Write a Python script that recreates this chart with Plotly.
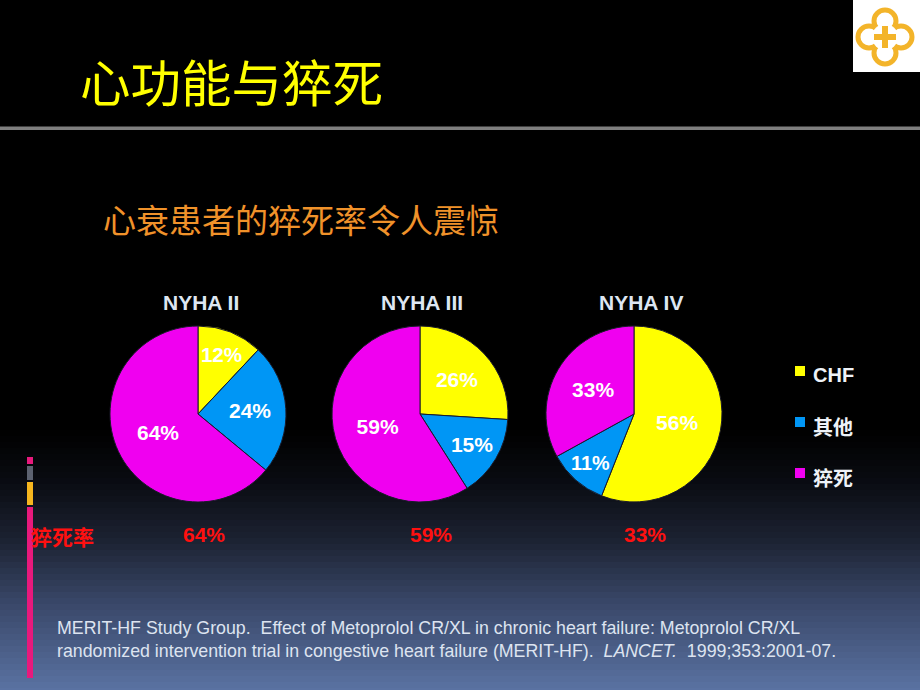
import plotly.graph_objects as go

# ---------------- data ----------------
groups = ["NYHA II", "NYHA III", "NYHA IV"]
categories = ["CHF", "其他", "猝死"]
chf = [12, 26, 56]
other = [24, 15, 11]
sudden = [64, 59, 33]
rate_label = "猝死率"
title_text = "心功能与猝死"
subtitle_text = "心衰患者的猝死率令人震惊"
citation_1 = "MERIT-HF Study Group.\u00a0 Effect of Metoprolol CR/XL in chronic heart failure: Metoprolol CR/XL"
citation_2 = ("randomized intervention trial in congestive heart failure (MERIT-HF).\u00a0 "
              "<i>LANCET.</i>\u00a0 1999;353:2001-07.")

# ---------------- style ----------------
W, H = 920, 690
colors = ["#ffff00", "#0096f5", "#f000f0"]
LAT = "Liberation Sans, Arial, Noto Sans CJK SC"
CJK = "Noto Sans CJK SC, Liberation Sans"


def px(x):
    return x / W


def py(y):
    return 1 - y / H


centers = [198, 420, 634]
cy = 414
R = 88

fig = go.Figure()
for i, g in enumerate(groups):
    cx = centers[i]
    fig.add_trace(go.Pie(
        labels=categories,
        values=[chf[i], other[i], sudden[i]],
        sort=False,
        direction="clockwise",
        rotation=0,
        marker=dict(colors=colors, line=dict(color="#1a1a2a", width=1)),
        textinfo="percent",
        textposition="inside",
        insidetextorientation="horizontal",
        textfont=dict(family=LAT, size=21, color="white", weight="bold"),
        domain=dict(x=[px(cx - R), px(cx + R)], y=[py(cy + R), py(cy - R)]),
        showlegend=False,
        hoverinfo="label+percent",
        name=g,
    ))

shapes = []
# background gradient (vertical)
stops = [(0, (0, 0, 0)), (430, (0, 0, 0)), (480, (9, 11, 17)), (540, (28, 34, 50)),
         (600, (56, 70, 102)), (690, (90, 114, 162))]


def col_at(y):
    for (y0, c0), (y1, c1) in zip(stops[:-1], stops[1:]):
        if y0 <= y <= y1:
            t = (y - y0) / (y1 - y0) if y1 > y0 else 0
            return "rgb(%d,%d,%d)" % tuple(round(a + (b - a) * t) for a, b in zip(c0, c1))
    return "rgb(%d,%d,%d)" % stops[-1][1]


step = 6
for y in range(400, H, step):
    shapes.append(dict(type="rect", xref="paper", yref="paper", layer="below",
                       x0=0, x1=1, y0=py(y + step + 1), y1=py(y),
                       fillcolor=col_at(y + step / 2), line=dict(width=0)))

# gray rule under the title
shapes.append(dict(type="rect", xref="paper", yref="paper", layer="below",
                   x0=0, x1=1, y0=py(130), y1=py(126.5),
                   fillcolor="#7f7f7f", line=dict(width=0)))

# left vertical decoration bar
for (y0, y1, c) in [(457, 464, "#e8197c"), (466, 480, "#5c6270"),
                    (482, 505, "#f6b61e"), (507, 678, "#e8197c")]:
    shapes.append(dict(type="rect", xref="paper", yref="paper", layer="above",
                       x0=px(27), x1=px(33), y0=py(y1), y1=py(y0),
                       fillcolor=c, line=dict(width=0)))

# logo (top right)
shapes.append(dict(type="rect", xref="paper", yref="paper", layer="above",
                   x0=px(853), x1=1, y0=py(72), y1=1,
                   fillcolor="white", line=dict(width=0)))
logo_c = "#f3b42a"
lcx, lcy, lo, lr = 885, 37, 16, 11
for dx, dy in [(0, -lo), (lo, 0), (0, lo), (-lo, 0)]:
    shapes.append(dict(type="circle", xref="paper", yref="paper", layer="above",
                       x0=px(lcx + dx - lr), x1=px(lcx + dx + lr),
                       y0=py(lcy + dy + lr), y1=py(lcy + dy - lr),
                       line=dict(color=logo_c, width=5)))
shapes.append(dict(type="circle", xref="paper", yref="paper", layer="above",
                   x0=px(lcx - 13), x1=px(lcx + 13), y0=py(lcy + 13), y1=py(lcy - 13),
                   fillcolor="white", line=dict(width=0)))
shapes.append(dict(type="rect", xref="paper", yref="paper", layer="above",
                   x0=px(lcx - 3), x1=px(lcx + 3), y0=py(lcy + 11), y1=py(lcy - 11),
                   fillcolor=logo_c, line=dict(width=0)))
shapes.append(dict(type="rect", xref="paper", yref="paper", layer="above",
                   x0=px(lcx - 11), x1=px(lcx + 11), y0=py(lcy + 3), y1=py(lcy - 3),
                   fillcolor=logo_c, line=dict(width=0)))

# legend markers
leg_y = [375, 426, 477]
for c, y in zip(colors, leg_y):
    shapes.append(dict(type="rect", xref="paper", yref="paper", layer="above",
                       x0=px(795), x1=px(805), y0=py(y + 1), y1=py(y - 9),
                       fillcolor=c, line=dict(width=0)))

ann = []


def text(x, y, s, size, color, family, anchor="center", weight="normal", align="left"):
    ann.append(dict(x=px(x), y=py(y), xref="paper", yref="paper", text=s,
                    showarrow=False, xanchor=anchor, yanchor="middle", align=align,
                    font=dict(size=size, color=color, family=family, weight=weight)))


text(78, 80, title_text, 50.5, "#ffff00", CJK, anchor="left")
text(101, 219, subtitle_text, 33, "#f0922a", CJK, anchor="left")

title_x = [201, 422, 641]
for g, x in zip(groups, title_x):
    text(x, 302, g, 21, "#dde6f2", LAT, weight="bold")

for cat, y in zip(categories, leg_y):
    text(811, y, cat, 20, "#eef2f8", LAT if cat == "CHF" else CJK, anchor="left", weight="bold")

text(29, 536, rate_label, 21, "#ff1010", CJK, anchor="left", weight="bold")
rate_x = [204, 431, 645]
for v, x in zip(sudden, rate_x):
    text(x, 534, f"{v}%", 21, "#ff1010", LAT, weight="bold")

text(55, 639, citation_1 + "<br>" + citation_2, 17.8, "#dde4f0", LAT, anchor="left")

fig.update_layout(
    width=W, height=H,
    margin=dict(l=0, r=0, t=0, b=0),
    paper_bgcolor="black",
    plot_bgcolor="black",
    shapes=shapes,
    annotations=ann,
    showlegend=False,
)

fig.write_html("out.html",
               config={"displayModeBar": False},
               post_script="document.body.style.margin='0';document.body.style.background='black';")
